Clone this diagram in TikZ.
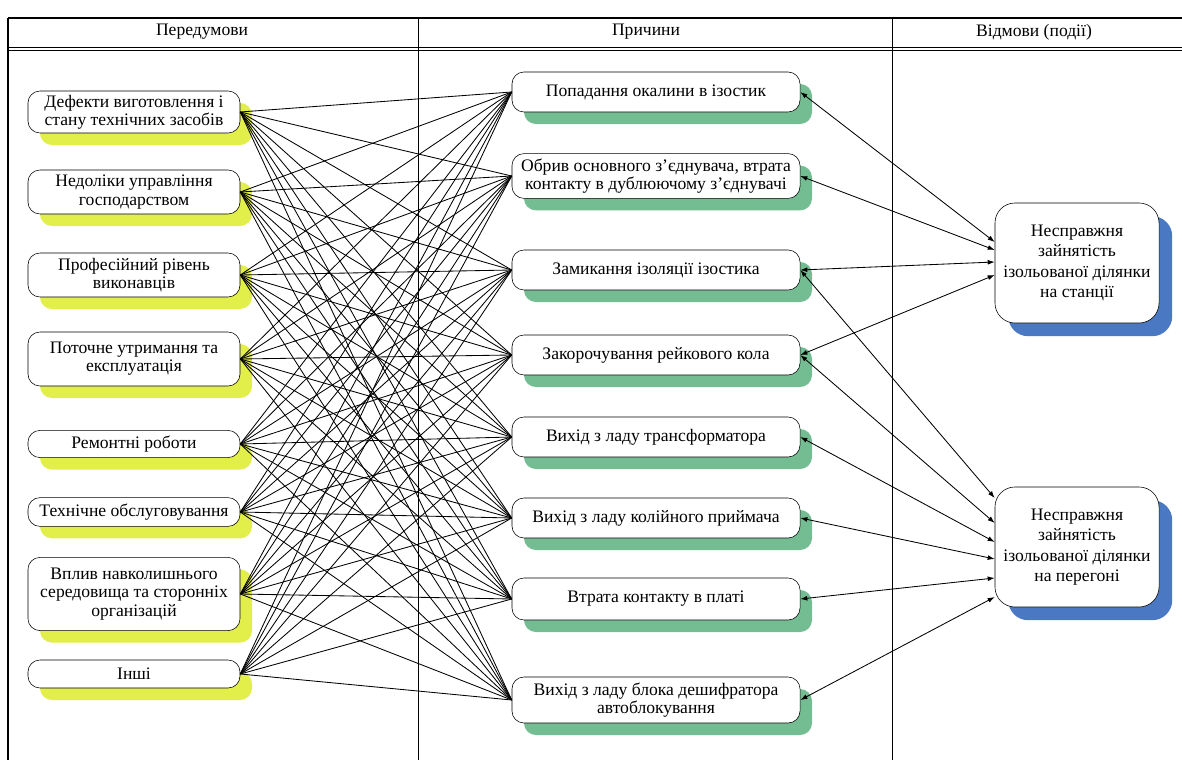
\documentclass[tikz,border=0pt]{standalone}
\usepackage{fontspec}
\setmainfont{Liberation Serif}
\usetikzlibrary{arrows.meta,shadows,calc}
\definecolor{preyel}{HTML}{E2EE4A}
\definecolor{causegrn}{HTML}{74BD93}
\definecolor{failblu}{HTML}{4A78C2}

\begin{document}
\begin{tikzpicture}[x=0.025cm,y=-0.025cm,>=Latex,
  font=\fontsize{12.5}{13}\selectfont,
  box/.style={draw,fill=white,rounded corners=0.3cm,align=center,inner sep=1pt},
  pre/.style={box,minimum width=5.3cm,
    drop shadow={shadow xshift=0.3cm,shadow yshift=-0.3cm,fill=preyel,opacity=1}},
  cause/.style={box,minimum width=7.2cm,minimum height=1cm,
    drop shadow={shadow xshift=0.3cm,shadow yshift=-0.3cm,fill=causegrn,opacity=1}},
  fail/.style={box,rounded corners=0.5cm,minimum width=4.1cm,minimum height=3cm,
    font=\fontsize{12.5}{14.5}\selectfont,
    drop shadow={shadow xshift=0.33cm,shadow yshift=-0.33cm,fill=failblu,opacity=1}},
  head/.style={font=\fontsize{12.5}{13}\selectfont},
  wire/.style={line width=0.6pt},
  link/.style={wire,{Latex[length=5pt,width=3.5pt]}-{Latex[length=5pt,width=3.5pt]}}]
  \useasboundingbox (0,0) rectangle (1182,760);
  \draw[line width=1.2pt] (8,18)--(1182,18);
  \draw[line width=1pt] (8,18)--(8,760);
  \draw[line width=0.6pt] (8,47)--(1182,47) (8,50.5)--(1182,50.5);
  \draw[line width=0.6pt] (418,18)--(418,760) (892,18)--(892,760);
  \node[head] (h1) at (202,32) {Передумови};
  \node[head] (h2) at (646,32) {Причини};
  \node[head] (h3) at (1034,32) {Відмови (події)};

  \node[pre,minimum height=1.05cm] (p1) at (134,112) {Дефекти виготовлення і\\стану технічних засобів};
  \node[pre,minimum height=1.1cm] (p2) at (134,192) {Недоліки управління\\господарством};
  \node[pre,minimum height=1.1cm] (p3) at (134,275) {Професійний рівень\\виконавців};
  \node[pre,minimum height=1.35cm] (p4) at (134,359) {Поточне утримання та\\експлуатація};
  \node[pre,minimum height=0.68cm] (p5) at (134,444) {Ремонтні роботи};
  \node[pre,minimum height=0.72cm] (p6) at (134,512) {Технічне обслуговування};
  \node[pre,minimum height=1.83cm] (p7) at (134,594) {Вплив навколишнього\\середовища та сторонніх\\організацій};
  \node[pre,minimum height=0.7cm] (p8) at (134,674) {Інші};

  \node[cause] (c1) at (656,92) {Попадання окалини в ізостик};
  \node[cause,minimum height=1.12cm] (c2) at (656,176) {Обрив основного з’єднувача, втрата\\контакту в дублюючому з’єднувачі};
  \node[cause] (c3) at (656,270) {Замикання ізоляції ізостика};
  \node[cause] (c4) at (656,355) {Закорочування рейкового кола};
  \node[cause] (c5) at (656,437) {Вихід з ладу трансформатора};
  \node[cause] (c6) at (656,518) {Вихід з ладу колійного приймача};
  \node[cause,minimum height=1.05cm] (c7) at (656,599) {Втрата контакту в платі};
  \node[cause,minimum height=1.15cm] (c8) at (656,700) {Вихід з ладу блока дешифратора\\автоблокування};

  \node[fail] (f1) at (1077,263) {Несправжня\\зайнятість\\ізольованої ділянки\\на станції};
  \node[fail] (f2) at (1077,547) {Несправжня\\зайнятість\\ізольованої ділянки\\на перегоні};

  \foreach \i in {1,...,8}
    \foreach \j in {1,...,8}
      \draw[wire] (p\i.east)--(c\j.west);
  \foreach \s/\t/\dy in {1/1/-21,2/1/-13,3/1/-1,4/1/12,3/2/-49,4/2/-24,5/2/-5,6/2/12,7/2/31,8/2/50}
    \draw[link] (c\s.east)--($(f\t.west)+(0,\dy)$);
\end{tikzpicture}
\end{document}
